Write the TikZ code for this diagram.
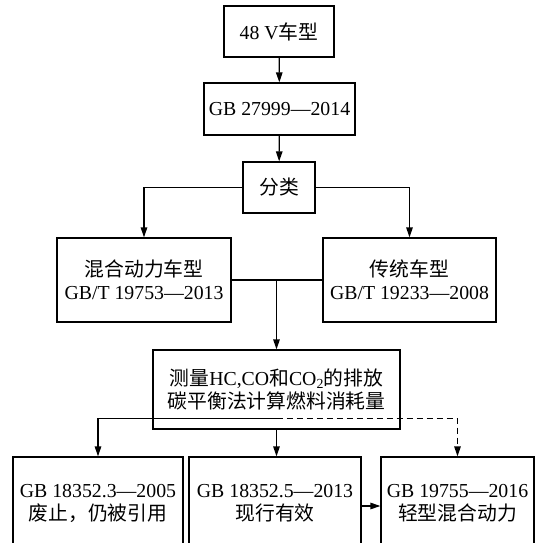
\documentclass[tikz,border=0pt]{standalone}
\usepackage{fontspec}
\setmainfont{Liberation Serif}
\newfontfamily\cjk{Noto Sans CJK SC}
\newcommand\zh[1]{{\cjk #1}}
\usetikzlibrary{arrows.meta}
\begin{document}
\begin{tikzpicture}[x=1pt,y=-1pt,
  box/.style={draw,line width=1.3pt,inner sep=0pt,align=center,font=\fontsize{19.8}{23}\selectfont},
  txt/.style={inner sep=0pt,align=center,font=\fontsize{19.8}{23}\selectfont},
  arr/.style={line width=1.3pt,-{Triangle[length=10pt,width=6.5pt]}},
  ln/.style={line width=1.3pt}]
\useasboundingbox (0,0) rectangle (542,543);
\node[box,minimum width=110pt,minimum height=51pt] (n1) at (279,31.5) {48 V\zh{车型}};
\node[box,minimum width=151pt,minimum height=52pt] (n2) at (279.5,109) {GB 27999—2014};
\node[box,minimum width=72pt,minimum height=51pt] (n3) at (279,187.5) {\zh{分类}};
\node[box,minimum width=174pt,minimum height=84pt] (n4) at (144,280) {\zh{混合动力车型}\\GB/T 19753—2013};
\node[box,minimum width=173pt,minimum height=84pt] (n5) at (409.5,280) {\zh{传统车型}\\GB/T 19233—2008};
\node[box,minimum width=247pt,minimum height=79pt] (n6) at (276.5,389.5) {\zh{测量}HC,CO\zh{和}CO\textsubscript{2}\zh{的排放}\\\zh{碳平衡法计算燃料消耗量}};
\node[box,minimum width=170pt,minimum height=123pt] (bA) at (98,518.5) {};
\node[box,minimum width=172pt,minimum height=123pt] (bB) at (275,518.5) {};
\node[box,minimum width=153pt,minimum height=123pt] (bC) at (457.5,518.5) {};
\node[txt] (tA) at (98,503) {GB 18352.3—2005\\\zh{废止，仍被引用}};
\node[txt] (tB) at (275,503) {GB 18352.5—2013\\\zh{现行有效}};
\node[txt] (tC) at (457.5,503) {GB 19755—2016\\\zh{轻型混合动力}};
\draw[arr] (n1) -- (n2);
\draw[arr] (n2) -- (n3);
\draw[arr] (n3.west) -| (n4.north);
\draw[arr] (n3.east) -| (n5.north);
\draw[ln] (n4.east) -- (n5.west);
\coordinate (j1) at (n6.north |- n4.east);
\draw[arr] (j1) -- (n6.north);
\coordinate (j2) at ([yshift=11pt]n6.south);
\draw[arr] (n6.south) -- (n6.south |- bB.north);
\draw[arr] (j2) -| (bA.north);
\draw[arr,dash pattern=on 6pt off 4pt] (j2) -| (bC.north);
\coordinate (a1) at ([yshift=-3pt]bB.east |- tB.center);
\draw[arr] (a1) -- (a1 -| bC.west);
\end{tikzpicture}
\end{document}
